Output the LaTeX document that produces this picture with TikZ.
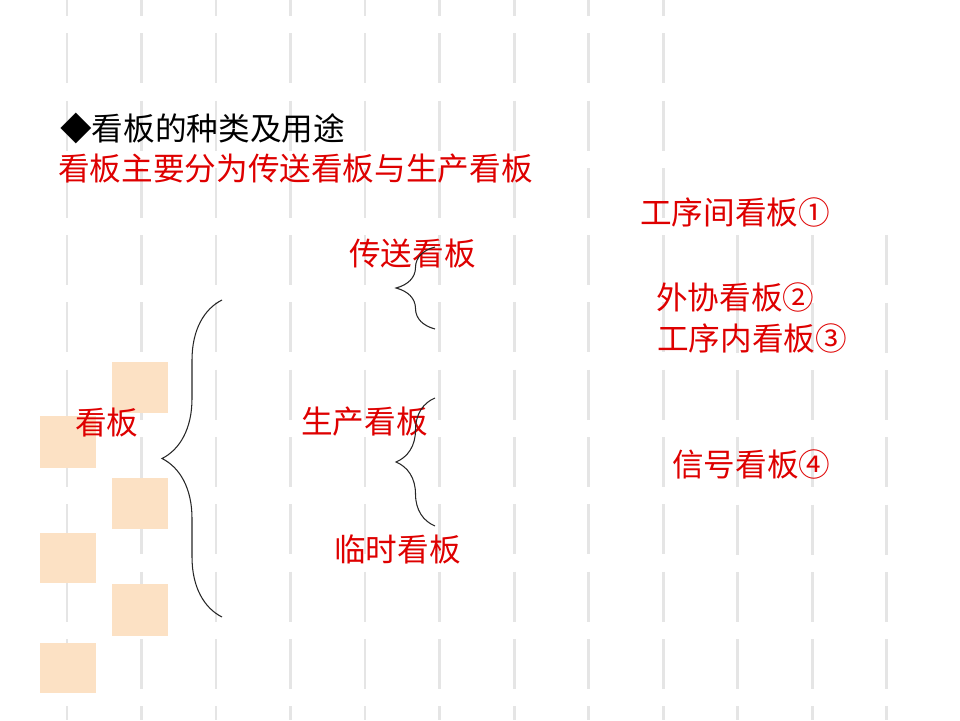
\documentclass[tikz,border=0pt]{standalone}
\usepackage{fontspec}
\setmainfont{Noto Sans CJK SC}
\usepackage{tikz}
\usetikzlibrary{decorations.pathreplacing, positioning}
\usepackage{xcolor}
\definecolor{kbred}{RGB}{222, 0, 0}
\definecolor{peach}{RGB}{252, 225, 196}
\definecolor{gridgray}{RGB}{229, 229, 229}

\begin{document}
\begin{tikzpicture}[x=0.02cm, y=-0.02cm,
  every node/.style={inner sep=0pt, anchor=west, font=\fontsize{18}{20}\selectfont},
  lbl/.style={text=kbred},
  tile/.style={fill=peach, draw=none},
  stripe/.style={draw=gridgray, line width=1.7pt, dash pattern=on 1cm off 0.346cm},
  brc/.style={decorate, decoration={brace, amplitude=#1}, line width=0.6pt, draw=black!85}
]
\useasboundingbox (0,0) rectangle (960,720);

% background stripes
\foreach \x in {67,141.5,216,290.5,365,439.5,514,588.5,663}
  \draw[stripe] (\x,-34) -- (\x,720);
\foreach \x in {737.5,812,886.5}
  \draw[stripe] (\x,235.4) -- (\x,720);

% tiles
\fill[tile] (112,362) rectangle (168,413);
\fill[tile] (40,416)  rectangle (96,468);
\fill[tile] (112,478) rectangle (168,529);
\fill[tile] (40,533)  rectangle (96,583);
\fill[tile] (112,584) rectangle (168,636);
\fill[tile] (40,643)  rectangle (96,693);

% headings
\node (title) at (60,128) {◆看板的种类及用途};
\node[lbl] (sub) at (58,169) {看板主要分为传送看板与生产看板};

% tree
\node[lbl] (kanban)   at (75,423)  {看板};
\node[lbl] (chuansong) at (349,254) {传送看板};
\node[lbl] (shengchan) at (301,422) {生产看板};
\node[lbl] (linshi)    at (334,549) {临时看板};

\node[lbl] (gxj)  at (640,212) {工序间看板①};
\node[lbl] (wx)   at (656,297) {外协看板②};
\node[lbl] (gxn)  at (657,338) {工序内看板③};
\node[lbl] (xh)   at (672,464) {信号看板④};

% braces
\coordinate (big top) at (222,300);
\coordinate (big bot) at (222,617);
\coordinate (cs top)  at (435,247);
\coordinate (cs bot)  at (435,329);
\coordinate (sc top)  at (435,398);
\coordinate (sc bot)  at (435,526);

\draw[brc=1.2cm]  (big bot) -- (big top);
\draw[brc=0.78cm] (cs bot) -- (cs top);
\draw[brc=0.78cm] (sc bot) -- (sc top);
\end{tikzpicture}
\end{document}
